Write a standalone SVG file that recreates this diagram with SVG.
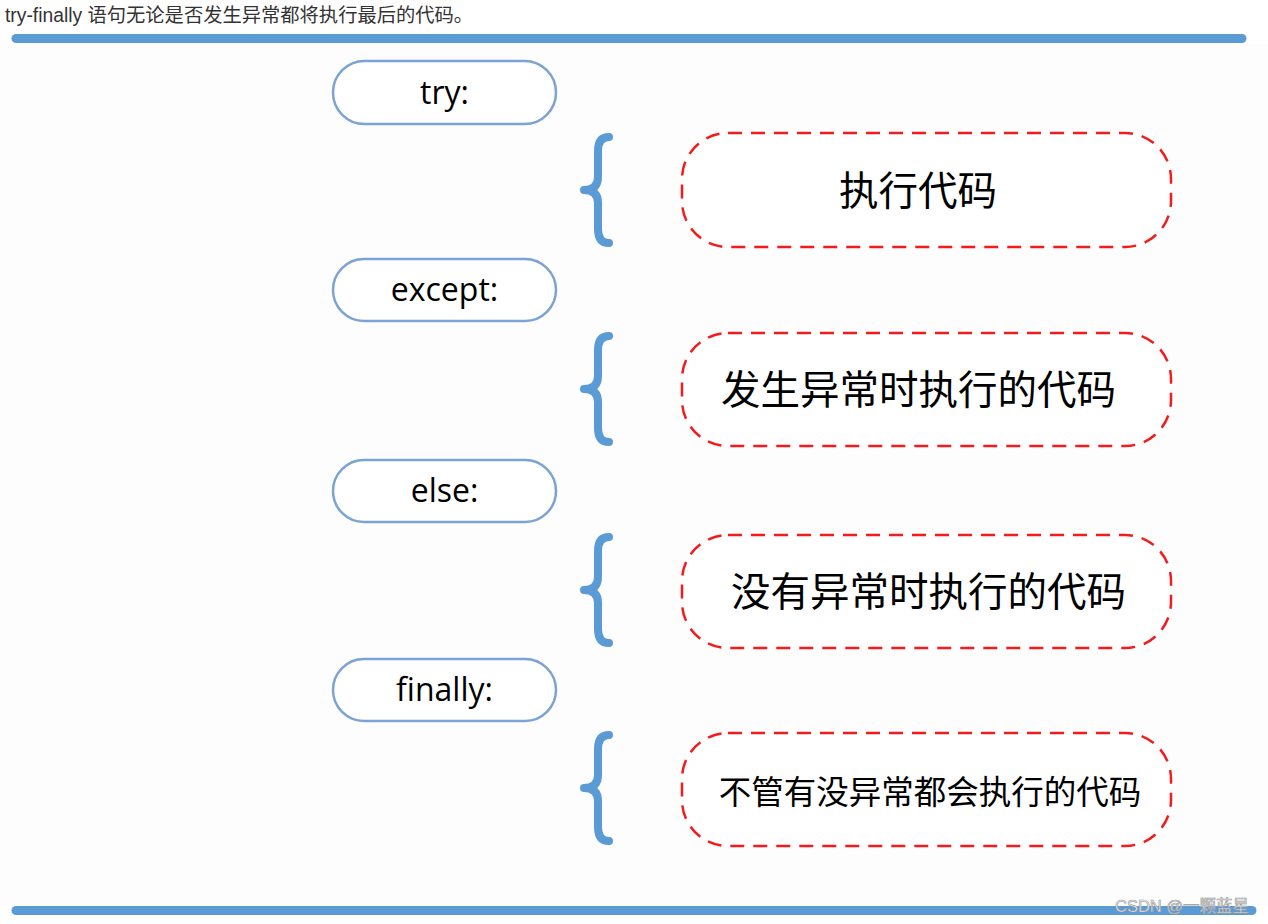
<svg xmlns="http://www.w3.org/2000/svg" width="1268" height="924" viewBox="0 0 1268 924">
<style>
.pill{fill:#fff;stroke:#7ba3d3;stroke-width:2.5}
.pt{font-family:"Open Sans","Noto Sans",sans-serif;font-size:32px;fill:#000;text-anchor:middle}
.box{fill:#fff;stroke:#f21c1c;stroke-width:2.5;stroke-dasharray:14 9}
.bt{font-family:"Noto Sans CJK SC",sans-serif;fill:#000;text-anchor:middle}
.brace{fill:none;stroke:#5b9bd5;stroke-width:8;stroke-linecap:round;stroke-linejoin:round}
.bar{stroke:#5b9bd5;stroke-width:9;stroke-linecap:round}
</style>
<defs>
<path id="br" d="M609,4 Q598,4 598,18 L598,44 Q598,57 584,57 Q598,57 598,70 L598,96 Q598,110 609,110"/>
</defs>
<rect x="0" y="0" width="1268" height="924" fill="#fff"/>
<rect x="0" y="44" width="1268" height="862" fill="#fdfdfd"/>
<text x="5" y="22" font-family="'Liberation Sans','Noto Sans CJK SC',sans-serif" font-size="19.3" fill="#333">try-finally 语句无论是否发生异常都将执行最后的代码。</text>
<line class="bar" x1="16" y1="38.5" x2="1242" y2="38.5"/>
<line class="bar" x1="16" y1="910.5" x2="1252" y2="910.5"/>
<g id="connectors">
<use href="#br" class="brace" transform="translate(0,133)"/>
<use href="#br" class="brace" transform="translate(0,332)"/>
<use href="#br" class="brace" transform="translate(0,533)"/>
<use href="#br" class="brace" transform="translate(0,731)"/>
</g>
<g id="try"><rect class="pill" x="333" y="61" width="223" height="63" rx="31.5"/><text class="pt" x="444.5" y="104">try:</text></g>
<g id="except"><rect class="pill" x="333" y="259" width="223" height="62" rx="31"/><text class="pt" x="444.5" y="301">except:</text></g>
<g id="else"><rect class="pill" x="333" y="460" width="223" height="62" rx="31"/><text class="pt" x="444.5" y="502">else:</text></g>
<g id="finally"><rect class="pill" x="333" y="659" width="223" height="62" rx="31"/><text class="pt" x="444.5" y="701">finally:</text></g>
<g id="code1"><rect class="box" x="682" y="133" width="489" height="114" rx="46"/><text class="bt" x="918" y="205" font-size="39.5">执行代码</text></g>
<g id="code2"><rect class="box" x="682" y="333" width="489" height="113" rx="46"/><text class="bt" x="918.5" y="404" font-size="39.5">发生异常时执行的代码</text></g>
<g id="code3"><rect class="box" x="682" y="535" width="489" height="113" rx="46"/><text class="bt" x="928.5" y="606" font-size="39.5">没有异常时执行的代码</text></g>
<g id="code4"><rect class="box" x="682" y="733" width="489" height="113" rx="46"/><text class="bt" x="930" y="804" font-size="32.5">不管有没异常都会执行的代码</text></g>
<text x="1115" y="912" font-family="'Liberation Sans','Noto Sans CJK SC',sans-serif" font-size="16.5" fill="#eee" stroke="#999" stroke-width="0.6">CSDN @一颗蓝星</text>
</svg>
